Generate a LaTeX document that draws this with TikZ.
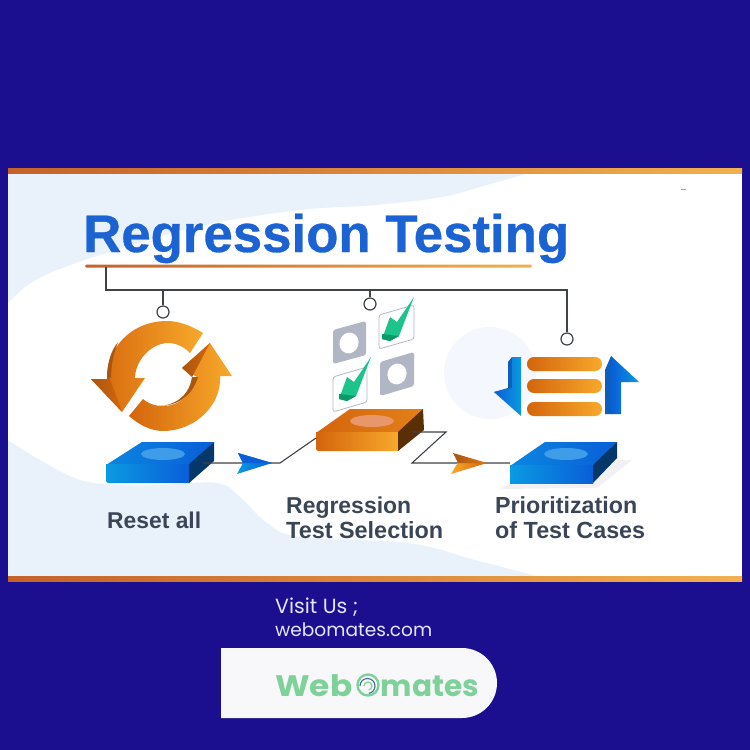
\documentclass[tikz,border=0pt]{standalone}
\usepackage{graphicx}
\usepackage{fontspec}
\setmainfont{Liberation Sans}
\newfontfamily\popp{Poppins}
\usetikzlibrary{calc}
\definecolor{bgnavy}{HTML}{1B0F8F}
\definecolor{blob}{HTML}{E9F1FB}
\definecolor{disc}{HTML}{F4F7FD}
\definecolor{titleblue}{HTML}{1B62D2}
\definecolor{slate}{HTML}{3A4558}
\definecolor{wire}{HTML}{3F4246}
\definecolor{orgL}{HTML}{D4650C}
\definecolor{orgR}{HTML}{F8A92B}
\definecolor{orgD}{HTML}{A9560F}
\definecolor{brownD}{HTML}{5A2F06}
\definecolor{bluL}{HTML}{0A9AE2}
\definecolor{bluR}{HTML}{0A5ED8}
\definecolor{bluT}{HTML}{0A86E0}
\definecolor{bluD}{HTML}{05386A}
\definecolor{bluS}{HTML}{0A5FBF}
\definecolor{grayicon}{HTML}{B1B6C4}
\definecolor{chk}{HTML}{1CC38B}
\definecolor{chkD}{HTML}{0E9A68}
\definecolor{logogreen}{HTML}{7FD19A}
\definecolor{spiral}{HTML}{3F6F8F}
\definecolor{card}{HTML}{F8F8FB}
\definecolor{BandL}{HTML}{C4622A}
\definecolor{BandR}{HTML}{F2B04E}
\definecolor{shadowgray}{HTML}{F1F1F3}
\definecolor{glowB}{HTML}{3E9CE8}
\definecolor{glowO}{HTML}{E8966A}
\newcommand{\fitw}[2]{\resizebox{#1pt}{!}{#2}}
\tikzset{
  band/.style={left color=BandL,right color=BandR,draw=none},
  wireline/.style={draw=wire,line width=1.2pt},
  flowline/.style={draw=wire,line width=1.1pt},
  port/.style={circle,draw=wire,line width=1.2pt,fill=white,minimum size=12pt,inner sep=0pt},
  lbl/.style={anchor=base west,inner sep=0pt,text=slate,font=\bfseries},
  orangegrad/.style={left color=orgL,right color=orgR,draw=none},
  bluegrad/.style={left color=bluL,right color=bluR,draw=none},
  bluetop/.style={left color=bluT,right color=bluR,draw=none},
  checkbox/.style={draw=grayicon,line width=0.8pt,fill=white,rounded corners=2.5pt},
  graybox/.style={fill=grayicon,rounded corners=2.5pt},
  visit/.style={anchor=base west,inner sep=0pt,text=white!90!blue},
}
\begin{document}
\begin{tikzpicture}[x=1pt,y=-1pt]
\useasboundingbox (0,0) rectangle (750,750);
\fill[bgnavy] (0,0) rectangle (750,750);
% panel
\fill[white] (8,168) rectangle (742,581);
\fill[blob] plot[smooth,tension=0.6] coordinates {(8,303)(25,287)(50,273)(100,255)(200,226)(300,210)(375,205)(442,197)(490,184)(530,173)} -- (8,173) -- cycle;
\fill[blob] plot[smooth,tension=0.6] coordinates {(8,440)(40,460)(80,480)(120,485)(160,485)(217,483)(240,497)(267,523)(300,537)(408,543)(475,560)(540,577)} -- (8,577) -- cycle;
\fill[disc] (490,373) circle (46);
\shade[band] (8,168.5) rectangle (742,173);
\shade[band] (8,576.5) rectangle (742,581);
\fill[BandL!70!white] (681,188.6) rectangle (686,189.6);
% title
\node[anchor=base west,inner sep=0pt,text=titleblue,font=\bfseries] (title) at (83,252) {\fitw{486}{\addfontfeature{FakeBold=0.6}\fontsize{56}{60}\selectfont Regression Testing}};
\shade[band,rounded corners=1.5pt] (85,264.5) rectangle (532,267.5);
% bus
\coordinate (busA) at (106,267);
\coordinate (busB) at (106,290);
\coordinate (busC) at (567,290);
\coordinate (busT1) at (163,290);
\coordinate (busT2) at (370,290);
\node[port] (p1) at (163,312) {};
\node[port] (p2) at (370,304) {};
\node[port] (p3) at (567,339) {};
\draw[wireline] (busA) -- (busB) -- (busC) -- (p3.north);
\draw[wireline] (busT1) -- (p1.north);
\draw[wireline] (busT2) -- (p2.north);
% reset icon
\shade[orangegrad] (203,333) .. controls (190,325) and (178,321) .. (167,321) .. controls (130,321) and (106,350) .. (107,379) -- (91,379) -- (122,412) -- (145,378) -- (135,378) .. controls (135,355) and (165,328) .. (190,353) -- cycle;
\fill[orgD] (107,379) .. controls (107,365) and (110,352) .. (118,342) .. controls (113,355) and (111,367) .. (111,378) -- cycle;
\shade[left color=orgD,right color=orgL,draw=none] (91,379) -- (110,379) -- (122,412) -- cycle;
\shade[orangegrad] (129,416) -- (143,399) .. controls (155,410) and (186,412) .. (197,377) -- (182,368) -- (210,343) -- (232,376) -- (220,376) .. controls (222,405) and (195,431) .. (163,431) .. controls (150,431) and (138,424) .. (129,416) -- cycle;
\fill[orgD] (158,406) .. controls (172,406) and (189,398) .. (192,377) -- (198,377) .. controls (192,396) and (178,406) .. (158,406) -- cycle;
\shade[left color=orgD,right color=orgL,draw=none] (182,368) -- (210,343) -- (192,377) -- cycle;
% block 1
\shade[bluetop] (106,465) -- (142,442) -- (214,442) -- (189,466) -- cycle;
\shade[bluegrad] (106,464) -- (189,464) -- (189,483) -- (108,483) -- (106,481) -- cycle;
\fill[bluD] (189,464) -- (214,442) -- (214,461) -- (189,483) -- cycle;
\fill[glowB] (163,454) ellipse (22 and 6);
% block 2
\shade[left color=orgL,right color=orgL!60!orgR,draw=none] (316,433) -- (350,409) -- (423,409) -- (398,434) -- cycle;
\shade[left color=orgL,right color=orgR,draw=none] (316,432) -- (398,432) -- (398,451) -- (318,451) -- (316,449) -- cycle;
\fill[brownD] (398,432) -- (423,409) -- (424,430) -- (398,451) -- cycle;
\fill[glowO] (372,421) ellipse (22 and 6);
% block 3
\fill[shadowgray] (500,489) -- (510,483) -- (593,483) -- (617,460) -- (632,460) -- (597,488) -- cycle;
\shade[bluetop] (510,466) -- (545,442) -- (617,442) -- (593,467) -- cycle;
\shade[bluegrad] (510,465) -- (593,465) -- (593,483) -- (510,483) -- cycle;
\fill[bluD] (593,465) -- (617,442) -- (617,458) -- (593,483) -- cycle;
\fill[glowB] (566,454) ellipse (22 and 6);
% connectors
\coordinate (s1) at (203,463);
\coordinate (k1) at (280,463);
\coordinate (e1) at (316,438);
\coordinate (s2) at (413,432);
\coordinate (k2) at (446,432);
\coordinate (k3) at (412,463);
\coordinate (e2) at (510,463);
\draw[flowline] (s1) -- (k1) -- (e1);
\draw[flowline] (s2) -- (k2) -- (k3) -- (e2);
% flow arrow heads
\shade[left color=bluL,right color=bluR,draw=none] (238,453) -- (272,463) -- (237,474) -- (243,463) -- cycle;
\fill[bluR] (238,453) -- (272,463) -- (243,463) -- cycle;
\shade[left color=orgR,right color=orgL,draw=none] (451,474) -- (487,463) -- (458,462.5) -- cycle;
\shade[left color=orgD,right color=orgL!70!orgR,draw=none] (453,453) -- (487,463) -- (458,463) -- cycle;
% check boxes
\fill[graybox] (333,330) -- (366,321) -- (366,355) -- (333,364) -- cycle;
\fill[white,rotate around={-18:(349,343)}] (349,343) ellipse (9.5 and 10.5);
\fill[graybox] (380,362) -- (414,352) -- (414,386) -- (380,396) -- cycle;
\fill[white,rotate around={-18:(397,374)}] (397,374) ellipse (9.5 and 10.5);
\draw[checkbox] (379,315) -- (414,305) -- (414,339) -- (379,349) -- cycle;
\draw[checkbox] (333,377) -- (367,367) -- (367,402) -- (333,412) -- cycle;
\fill[chk] (390,317) -- (397,322) -- (414,297) -- (399,336) -- (390,341) -- (382,339) -- cycle;
\fill[chkD] (382,334) -- (399,336) -- (390,341) -- (382,339) -- cycle;
\fill[chk] (347,377) -- (354,382) -- (371,357) -- (356,396) -- (347,401) -- (339,399) -- cycle;
\fill[chkD] (339,394) -- (356,396) -- (347,401) -- (339,399) -- cycle;
% priority icon
\shade[orangegrad,rounded corners=6.9pt] (527,357) rectangle (602,371);
\shade[orangegrad,rounded corners=6.9pt] (527,379) rectangle (602,393);
\shade[orangegrad,rounded corners=6.9pt] (527,402) rectangle (602,416);
\fill[bluS] (512,357) -- (508,362) -- (508,388) -- (494,392) -- (510,400) -- (513,390) -- cycle;
\shade[left color=bluR,right color=bluL,draw=none] (512,357) -- (521,357) -- (521,416) -- (494,392) -- (512,388) -- cycle;
\fill[bluS] (605,370) -- (611,356) -- (613,414) -- (605,414) -- cycle;
\shade[left color=bluR,right color=bluL,draw=none] (611,356) -- (639,382) -- (621,382) -- (621,414) -- (611.5,414) -- cycle;
% labels
\node[lbl] (t1) at (107,528) {\fitw{94}{Reset all}};
\node[lbl] (t2) at (286,513) {\fitw{125}{Regression}};
\node[lbl] (t3) at (286,538) {\fitw{157}{Test Selection}};
\node[lbl] (t4) at (495,513) {\fitw{142}{Prioritization}};
\node[lbl] (t5) at (495,538) {\fitw{150}{of Test Cases}};
% footer
\node[visit] (v1) at (275,613) {\fitw{83}{\popp Visit Us ;}};
\node[visit] (v2) at (275,636) {\fitw{157}{\popp webomates.com}};
\fill[card] (221,648) -- (462,648) arc[start angle=-90,end angle=90,radius=35] -- (221,718) -- cycle;
\node[anchor=base west,inner sep=0pt,text=logogreen] (logo) at (275,696) {\fitw{204}{\popp\bfseries \scalebox{1.11}[1]{Web}\kern.15em o\kern.18em mates}};
\fill[card] (368,685) circle (12.8);
\draw[logogreen,line width=2.4pt] (368,685) circle (10.5);
\draw[spiral,line width=1.1pt] (360,686) arc[start angle=180,end angle=440,radius=7.5];
\draw[logogreen,line width=1.2pt] (364,686) arc[start angle=180,end angle=440,radius=4];
\end{tikzpicture}
\end{document}
